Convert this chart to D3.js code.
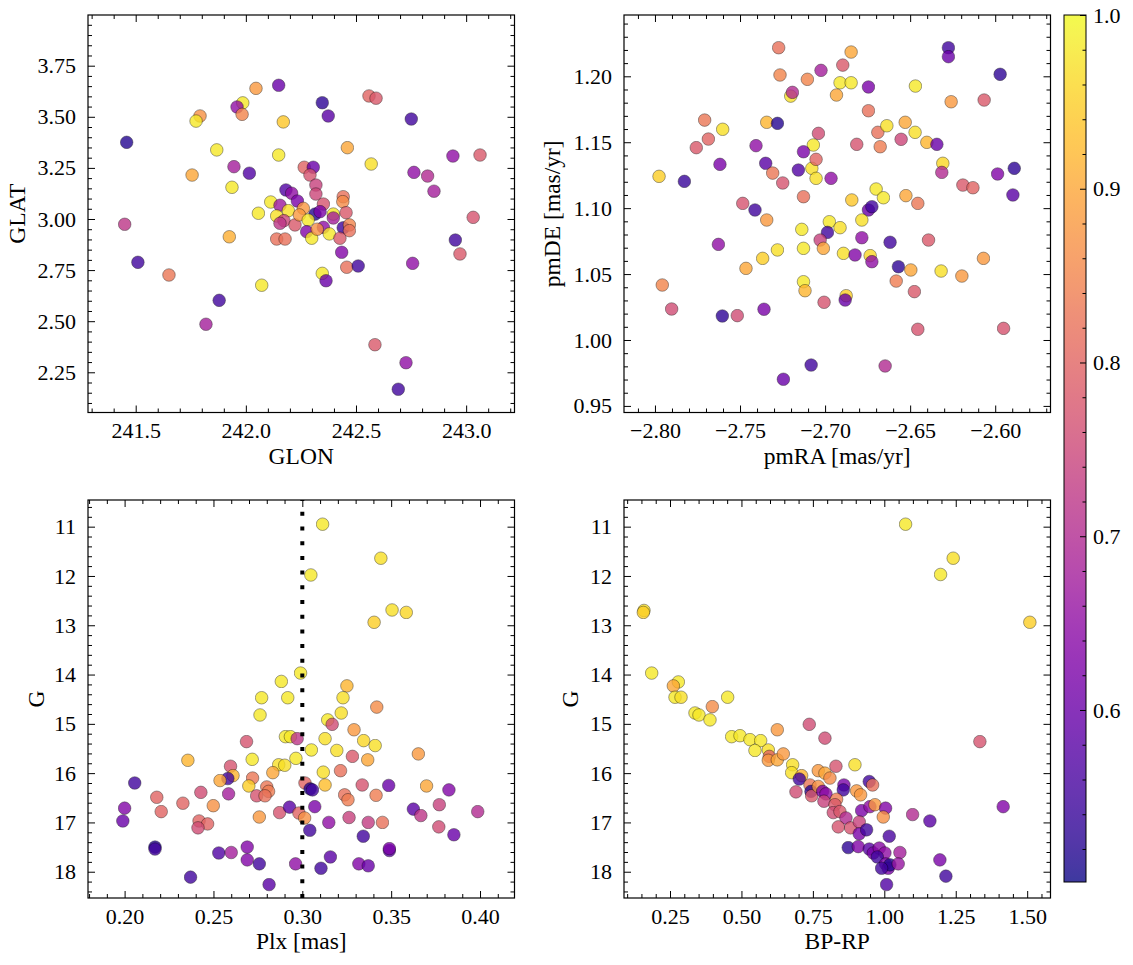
<!DOCTYPE html>
<html><head><meta charset="utf-8">
<script src="https://cdn.jsdelivr.net/npm/d3@7"></script>
<style>
body{margin:0;background:#fff}
svg text{font-family:"Liberation Serif","Times New Roman",serif;font-size:22px;fill:#000}
svg text.axlabel{font-size:23.5px}
</style>
</head><body>
<svg id="c" width="1133" height="965"></svg>
<script>
// ---------- data: [x, y, membership probability] ----------
const skyPos = [ // GLON, GLAT, prob
[242.149,3.654,0.60],[242.046,3.639,0.88],[241.986,3.568,0.98],[241.960,3.548,0.65],[241.983,3.512,0.85],
[241.792,3.504,0.87],[241.774,3.479,0.98],[242.170,3.475,0.94],[241.459,3.375,0.52],[241.868,3.338,0.98],
[242.149,3.313,0.98],[241.946,3.256,0.68],[242.016,3.224,0.57],[241.756,3.215,0.90],[241.937,3.155,0.98],
[242.057,3.028,0.98],[242.265,3.253,0.80],[242.306,3.253,0.60],[242.291,3.215,0.77],[242.318,3.166,0.74],
[242.182,3.142,0.57],[242.208,3.126,0.65],[242.318,3.122,0.75],[242.442,3.109,0.82],[242.234,3.088,0.62],
[242.113,3.083,0.98],[242.155,3.067,0.67],[242.352,3.073,0.77],[242.440,3.085,0.86],[242.140,3.015,0.97],
[242.193,3.041,0.97],[242.261,3.052,0.88],[242.314,3.024,0.52],[242.337,3.036,0.62],[242.397,3.024,0.98],
[242.397,3.005,0.68],[242.455,3.031,0.78],[242.173,2.992,0.75],[242.155,2.979,0.72],[242.223,2.971,0.78],
[242.243,3.020,0.88],[242.283,2.995,0.98],[242.276,2.938,0.63],[242.299,2.906,0.98],[242.352,2.959,0.65],
[242.324,2.950,0.87],[242.379,2.927,0.98],[242.442,2.957,0.55],[242.470,2.971,0.85],[242.470,2.943,0.82],
[242.427,2.906,0.78],[242.140,2.902,0.82],[242.178,2.902,0.82],[241.925,2.913,0.91],[242.435,2.837,0.63],
[242.458,2.764,0.82],[242.510,2.770,0.55],[242.347,2.734,0.98],[242.364,2.698,0.60],[242.072,2.676,0.98],
[242.559,3.602,0.80],[242.591,3.591,0.78],[242.347,3.569,0.53],[242.374,3.504,0.58],[242.751,3.489,0.55],
[242.461,3.349,0.90],[242.569,3.269,0.97],[242.940,3.308,0.65],[243.063,3.313,0.78],[242.763,3.228,0.65],
[242.825,3.210,0.70],[242.854,3.136,0.68],[243.032,3.008,0.77],[242.951,2.897,0.55],[242.972,2.829,0.78],
[242.757,2.783,0.65],[242.586,2.385,0.78],[242.727,2.297,0.65],[242.692,2.167,0.55],[241.450,2.974,0.72],
[241.510,2.788,0.55],[241.651,2.726,0.83],[241.879,2.602,0.55],[241.819,2.485,0.68]
];
const properMotion = [ // pmRA, pmDE, prob
[-2.7273,1.2217,0.82],[-2.6847,1.2184,0.90],[-2.6275,1.2217,0.55],[-2.6275,1.2149,0.60],[-2.7265,1.2010,0.85],
[-2.7104,1.1977,0.85],[-2.7024,1.2045,0.68],[-2.6896,1.2085,0.78],[-2.6912,1.1951,0.98],[-2.6847,1.1951,0.98],
[-2.6933,1.1858,0.90],[-2.6745,1.1919,0.62],[-2.7202,1.1850,0.97],[-2.7192,1.1878,0.70],[-2.6469,1.1926,0.98],
[-2.5971,1.2015,0.53],[-2.6259,1.1807,0.88],[-2.6065,1.1820,0.78],[-2.6745,1.1739,0.82],[-2.7708,1.1668,0.83],
[-2.7602,1.1598,0.97],[-2.7686,1.1524,0.80],[-2.7757,1.1459,0.78],[-2.7343,1.1651,0.92],[-2.7280,1.1643,0.52],
[-2.7039,1.1567,0.76],[-2.7069,1.1479,0.98],[-2.7406,1.1474,0.65],[-2.7127,1.1428,0.62],[-2.6690,1.1575,0.82],
[-2.6637,1.1625,0.97],[-2.6529,1.1651,0.90],[-2.6471,1.1575,0.97],[-2.6814,1.1484,0.77],[-2.6676,1.1466,0.84],
[-2.6553,1.1522,0.75],[-2.6402,1.1499,0.92],[-2.6343,1.1484,0.60],[-2.6308,1.1340,0.96],[-2.6314,1.1271,0.70],
[-2.7976,1.1241,0.95],[-2.7827,1.1203,0.54],[-2.7618,1.1332,0.62],[-2.7349,1.1340,0.58],[-2.7308,1.1266,0.83],
[-2.7249,1.1191,0.77],[-2.7157,1.1289,0.57],[-2.7078,1.1302,0.97],[-2.7053,1.1370,0.80],[-2.7053,1.1226,0.97],
[-2.6965,1.1226,0.65],[-2.6190,1.1175,0.78],[-2.6131,1.1155,0.80],[-2.5986,1.1259,0.63],[-2.5888,1.1302,0.53],
[-2.5896,1.1100,0.58],[-2.7127,1.1087,0.82],[-2.7484,1.1036,0.77],[-2.7412,1.0986,0.55],[-2.7343,1.0910,0.88],
[-2.6843,1.1062,0.94],[-2.6700,1.1145,0.98],[-2.6657,1.1079,0.98],[-2.6745,1.0986,0.60],[-2.6725,1.1011,0.55],
[-2.6525,1.1095,0.90],[-2.6455,1.1036,0.83],[-2.7137,1.0839,0.98],[-2.6975,1.0897,0.98],[-2.6986,1.0816,0.55],
[-2.6912,1.0852,0.97],[-2.6784,1.0910,0.97],[-2.7029,1.0758,0.74],[-2.7010,1.0695,0.90],[-2.6784,1.0776,0.65],
[-2.6618,1.0741,0.55],[-2.6392,1.0758,0.78],[-2.7627,1.0725,0.65],[-2.7280,1.0683,0.97],[-2.7127,1.0695,0.98],
[-2.7367,1.0619,0.95],[-2.6892,1.0657,0.97],[-2.6824,1.0645,0.63],[-2.6735,1.0640,0.96],[-2.6725,1.0594,0.65],
[-2.6569,1.0556,0.53],[-2.6496,1.0531,0.90],[-2.6318,1.0523,0.97],[-2.6196,1.0485,0.88],[-2.6069,1.0619,0.88],
[-2.7465,1.0543,0.90],[-2.7127,1.0442,0.98],[-2.7118,1.0374,0.92],[-2.6582,1.0447,0.84],[-2.6475,1.0367,0.78],
[-2.6876,1.0336,0.95],[-2.6882,1.0303,0.60],[-2.7006,1.0286,0.77],[-2.7957,1.0417,0.85],[-2.7902,1.0235,0.76],
[-2.7604,1.0182,0.53],[-2.7516,1.0185,0.76],[-2.7359,1.0233,0.62],[-2.6455,1.0081,0.77],[-2.5951,1.0088,0.77],
[-2.7082,0.9810,0.55],[-2.7245,0.9702,0.60],[-2.6647,0.9803,0.70]
];
const parallaxMag = [ // Plx, G, prob
[0.3114,10.95,0.98],[0.3442,11.64,0.97],[0.3048,11.98,0.98],[0.3505,12.69,0.97],[0.3585,12.74,0.96],
[0.3404,12.94,0.95],[0.2990,13.97,0.98],[0.2882,14.14,0.98],[0.2918,14.47,0.98],[0.2771,14.47,0.98],
[0.2762,14.82,0.98],[0.3251,14.23,0.92],[0.3229,14.47,0.97],[0.3219,14.78,0.97],[0.3419,14.66,0.86],
[0.3143,14.92,0.98],[0.3168,15.01,0.76],[0.2686,15.36,0.77],[0.2905,15.26,0.98],[0.2933,15.26,0.98],
[0.2971,15.30,0.72],[0.3291,15.12,0.88],[0.3128,15.30,0.97],[0.3345,15.34,0.96],[0.3410,15.44,0.97],
[0.3051,15.53,0.98],[0.3194,15.54,0.97],[0.2718,15.72,0.98],[0.2964,15.70,0.98],[0.2356,15.74,0.92],
[0.3282,15.66,0.78],[0.3368,15.73,0.90],[0.3653,15.61,0.88],[0.2867,15.83,0.97],[0.2901,15.84,0.97],
[0.2834,15.99,0.90],[0.2596,15.86,0.77],[0.2610,16.05,0.92],[0.2581,16.11,0.55],[0.2537,16.15,0.90],
[0.2720,16.10,0.83],[0.2699,16.26,0.95],[0.3118,15.98,0.97],[0.3215,15.95,0.82],[0.3015,16.20,0.80],
[0.3044,16.32,0.52],[0.3057,16.34,0.55],[0.3128,16.24,0.93],[0.3337,16.24,0.77],[0.3486,16.25,0.60],
[0.3699,16.26,0.90],[0.3825,16.34,0.63],[0.2057,16.20,0.55],[0.2181,16.49,0.80],[0.2429,16.39,0.76],
[0.2585,16.42,0.68],[0.2743,16.46,0.77],[0.2800,16.28,0.83],[0.2810,16.37,0.84],[0.2790,16.46,0.82],
[0.3238,16.44,0.82],[0.3257,16.54,0.84],[0.3415,16.45,0.84],[0.2328,16.61,0.80],[0.2499,16.66,0.87],
[0.2206,16.78,0.80],[0.2000,16.71,0.63],[0.1990,16.97,0.60],[0.2419,16.97,0.80],[0.2467,17.03,0.80],
[0.2413,17.11,0.76],[0.2758,16.89,0.88],[0.2872,16.80,0.77],[0.2928,16.69,0.58],[0.2981,16.81,0.80],
[0.3013,16.91,0.87],[0.3070,16.68,0.62],[0.3042,17.16,0.55],[0.3149,17.00,0.65],[0.3263,16.90,0.74],
[0.3371,17.00,0.73],[0.3451,17.00,0.82],[0.3343,17.28,0.55],[0.3625,16.73,0.58],[0.3667,16.86,0.72],
[0.3771,16.64,0.74],[0.3768,17.09,0.76],[0.3987,16.78,0.70],[0.3853,17.25,0.60],[0.2171,17.50,0.52],
[0.2171,17.54,0.55],[0.2530,17.62,0.57],[0.2600,17.61,0.68],[0.2690,17.50,0.63],[0.2690,17.76,0.63],
[0.2758,17.84,0.55],[0.2371,18.11,0.55],[0.2813,18.26,0.58],[0.2962,17.84,0.65],[0.3105,17.93,0.55],
[0.3158,17.70,0.58],[0.3318,17.84,0.63],[0.3371,17.88,0.60],[0.3490,17.57,0.58],[0.3490,17.53,0.62]
];
const colourMag = [ // BP-RP, G, prob
[1.0744,10.95,0.98],[1.2411,11.64,0.97],[1.1968,11.97,0.98],[1.5093,12.94,0.95],[0.1590,12.70,0.97],
[0.1567,12.74,0.95],[0.1859,13.97,0.98],[0.2792,14.15,0.98],[0.2617,14.23,0.90],[0.2675,14.46,0.98],
[0.2885,14.46,0.97],[0.4517,14.46,0.98],[0.3981,14.65,0.86],[0.3375,14.78,0.98],[0.3514,14.82,0.98],
[0.3899,14.92,0.98],[0.7374,15.01,0.76],[0.6255,15.12,0.88],[0.7922,15.29,0.76],[1.3344,15.36,0.77],
[0.4657,15.26,0.98],[0.4949,15.24,0.98],[0.5298,15.32,0.98],[0.5672,15.34,0.98],[0.5473,15.54,0.98],
[0.5940,15.53,0.97],[0.5975,15.66,0.80],[0.5940,15.74,0.88],[0.6255,15.73,0.90],[0.6465,15.61,0.88],
[0.6791,15.83,0.97],[0.6756,15.99,0.97],[0.8972,15.83,0.97],[0.8307,15.86,0.77],[0.7689,15.95,0.88],
[0.7922,16.00,0.90],[0.8097,16.10,0.86],[0.7106,16.05,0.92],[0.7024,16.12,0.55],[0.6908,16.38,0.76],
[0.7398,16.24,0.83],[0.7433,16.37,0.52],[0.7457,16.46,0.78],[0.7689,16.27,0.87],[0.7841,16.37,0.62],
[0.7957,16.42,0.65],[0.7887,16.57,0.74],[0.8587,16.24,0.62],[0.8564,16.34,0.55],[0.9030,16.36,0.88],
[0.9170,16.44,0.88],[0.9473,16.17,0.55],[0.9590,16.24,0.82],[0.8330,16.53,0.84],[0.8272,16.64,0.78],
[0.8214,16.80,0.76],[0.8447,16.78,0.78],[0.9205,16.76,0.62],[0.9497,16.68,0.65],[0.9672,16.64,0.88],
[1.0044,16.71,0.63],[0.9963,16.89,0.87],[0.8657,16.91,0.70],[0.8820,17.11,0.77],[0.9123,16.99,0.74],
[0.8389,17.09,0.77],[0.9123,17.23,0.62],[0.9380,17.15,0.55],[1.0989,16.84,0.70],[1.1595,16.97,0.58],
[1.4160,16.68,0.63],[1.0172,17.28,0.56],[0.8738,17.51,0.53],[0.9088,17.49,0.63],[0.9473,17.54,0.58],
[0.9613,17.62,0.62],[0.9823,17.52,0.64],[1.0021,17.62,0.65],[0.9753,17.70,0.55],[1.0546,17.61,0.68],
[1.0044,17.84,0.62],[1.0137,17.93,0.62],[1.0196,17.86,0.52],[1.0487,17.84,0.66],[1.1945,17.76,0.62],
[1.2155,18.09,0.55],[1.0079,18.26,0.57],[0.9905,17.93,0.55]
];
// tick labels
const glonTicks = [241.5, 242.0, 242.5, 243.0];
const glatTicks = [2.25, 2.50, 2.75, 3.00, 3.25, 3.50, 3.75];
const pmraTicks = [-2.80, -2.75, -2.70, -2.65, -2.60];
const pmdeTicks = [0.95, 1.00, 1.05, 1.10, 1.15, 1.20];
const plxTicks = [0.20, 0.25, 0.30, 0.35, 0.40];
const gTicks = [11, 12, 13, 14, 15, 16, 17, 18];
const bprpTicks = [0.25, 0.50, 0.75, 1.00, 1.25, 1.50];
const probTicks = [0.6, 0.7, 0.8, 0.9, 1.0];
const plxReference = 0.30;
const probRange = [0.501, 1.0];

// ---------- drawing ----------
const svg = d3.select('#c');
const color = p => d3.interpolatePlasma((p - probRange[0]) / (probRange[1] - probRange[0]));
const MAJ = 7, MIN = 4;

function minorVals(dom, step) {
  const lo = Math.min(...dom), hi = Math.max(...dom);
  const out = [];
  for (let k = Math.ceil(lo / step - 1e-9); k * step <= hi + 1e-9; k++) out.push(+(k * step).toFixed(6));
  return out;
}
function styleAxis(sel) {
  sel.select('.domain').remove();
  sel.attr('font-family', null).attr('font-size', null);
  sel.selectAll('line').attr('stroke', '#000').attr('stroke-width', 1);
  sel.selectAll('text').style('font-family', '"Liberation Serif",serif').style('font-size', '22px').attr('fill', '#000');
}

function panel(o) {
  const x = d3.scaleLinear().domain(o.xdom).range([o.x0, o.x1]);
  const y = d3.scaleLinear().domain(o.ydom).range([o.y1, o.y0]);
  const g = svg.append('g');
  g.append('clipPath').attr('id', 'clip' + o.id).append('rect')
    .attr('x', o.x0).attr('y', o.y0).attr('width', o.x1 - o.x0).attr('height', o.y1 - o.y0);
  const pg = g.append('g').attr('clip-path', `url(#clip${o.id})`);
  pg.selectAll('circle').data(o.data).join('circle')
    .attr('cx', d => x(d[0])).attr('cy', d => y(d[1])).attr('r', 6.3)
    .attr('fill', d => color(d[2]))
    .attr('stroke', '#000').attr('stroke-width', 0.45)
    .attr('opacity', 0.8);
  if (o.vline != null) {
    pg.append('line').attr('x1', x(o.vline)).attr('x2', x(o.vline))
      .attr('y1', o.y1).attr('y2', o.y0)
      .attr('stroke', '#000').attr('stroke-width', 4).attr('stroke-dasharray', '4 10.7');
  }
  const xmin = minorVals(o.xdom, o.xminor).filter(v => !o.xticks.some(t => Math.abs(t - v) < 1e-6));
  const ymin = minorVals(o.ydom, o.yminor).filter(v => !o.yticks.some(t => Math.abs(t - v) < 1e-6));
  g.append('g').attr('transform', `translate(0,${o.y1})`)
    .call(d3.axisBottom(x).tickValues(o.xticks).tickSizeInner(-MAJ).tickSizeOuter(0).tickPadding(10).tickFormat(o.xfmt))
    .call(styleAxis);
  g.append('g').attr('transform', `translate(0,${o.y1})`)
    .call(d3.axisBottom(x).tickValues(xmin).tickSizeInner(-MIN).tickSizeOuter(0).tickFormat(() => ''))
    .call(styleAxis);
  g.append('g').attr('transform', `translate(0,${o.y0})`)
    .call(d3.axisTop(x).tickValues(o.xticks).tickSizeInner(-MAJ).tickSizeOuter(0).tickFormat(() => ''))
    .call(styleAxis);
  g.append('g').attr('transform', `translate(0,${o.y0})`)
    .call(d3.axisTop(x).tickValues(xmin).tickSizeInner(-MIN).tickSizeOuter(0).tickFormat(() => ''))
    .call(styleAxis);
  g.append('g').attr('transform', `translate(${o.x0},0)`)
    .call(d3.axisLeft(y).tickValues(o.yticks).tickSizeInner(-MAJ).tickSizeOuter(0).tickPadding(12).tickFormat(o.yfmt))
    .call(styleAxis);
  g.append('g').attr('transform', `translate(${o.x0},0)`)
    .call(d3.axisLeft(y).tickValues(ymin).tickSizeInner(-MIN).tickSizeOuter(0).tickFormat(() => ''))
    .call(styleAxis);
  g.append('g').attr('transform', `translate(${o.x1},0)`)
    .call(d3.axisRight(y).tickValues(o.yticks).tickSizeInner(-MAJ).tickSizeOuter(0).tickFormat(() => ''))
    .call(styleAxis);
  g.append('g').attr('transform', `translate(${o.x1},0)`)
    .call(d3.axisRight(y).tickValues(ymin).tickSizeInner(-MIN).tickSizeOuter(0).tickFormat(() => ''))
    .call(styleAxis);
  g.append('rect').attr('x', o.x0).attr('y', o.y0).attr('width', o.x1 - o.x0).attr('height', o.y1 - o.y0)
    .attr('fill', 'none').attr('stroke', '#000').attr('stroke-width', 1.2);
  g.append('text').attr('class', 'axlabel').attr('x', (o.x0 + o.x1) / 2).attr('y', o.y1 + 51)
    .attr('text-anchor', 'middle').text(o.xlabel);
  g.append('text').attr('class', 'axlabel')
    .attr('transform', `translate(${o.ylabelX},${(o.y0 + o.y1) / 2}) rotate(-90)`)
    .attr('text-anchor', 'middle').text(o.ylabel);
}

const L = [88, 514.5], R = [624, 1050.5], T = [15, 412.5], B = [500, 898];
const f2 = d3.format('.2f'), f1 = d3.format('.1f'), f0 = d3.format('d');

panel({id: 1, x0: L[0], x1: L[1], y0: T[0], y1: T[1], data: skyPos,
  xdom: [241.2835, 243.2195], ydom: [2.0533, 3.998],
  xticks: glonTicks, yticks: glatTicks, xminor: 0.1, yminor: 0.05,
  xfmt: f1, yfmt: f2, xlabel: 'GLON', ylabel: 'GLAT', ylabelX: 25});
panel({id: 2, x0: R[0], x1: R[1], y0: T[0], y1: T[1], data: properMotion,
  xdom: [-2.8182, -2.5675], ydom: [0.9450, 1.2465],
  xticks: pmraTicks, yticks: pmdeTicks, xminor: 0.01, yminor: 0.01,
  xfmt: f2, yfmt: f2, xlabel: 'pmRA [mas/yr]', ylabel: 'pmDE [mas/yr]', ylabelX: 560});
panel({id: 3, x0: L[0], x1: L[1], y0: B[0], y1: B[1], data: parallaxMag,
  xdom: [0.1794, 0.4194], ydom: [18.533, 10.459],
  xticks: plxTicks, yticks: gTicks, xminor: 0.01, yminor: 0.2,
  xfmt: f2, yfmt: f0, xlabel: 'Plx [mas]', ylabel: 'G', ylabelX: 44, vline: plxReference});
panel({id: 4, x0: R[0], x1: R[1], y0: B[0], y1: B[1], data: colourMag,
  xdom: [0.089, 1.5816], ydom: [18.533, 10.459],
  xticks: bprpTicks, yticks: gTicks, xminor: 0.05, yminor: 0.2,
  xfmt: f2, yfmt: f0, xlabel: 'BP-RP', ylabel: 'G', ylabelX: 578});

// colorbar
const CB = {x0: 1064, x1: 1086, y0: 15, y1: 882};
const cy = d3.scaleLinear().domain(probRange).range([CB.y1, CB.y0]);
const defs = svg.append('defs');
const grad = defs.append('linearGradient').attr('id', 'cbgrad')
  .attr('x1', 0).attr('y1', 1).attr('x2', 0).attr('y2', 0);
d3.range(0, 1.0001, 0.02).forEach(t => {
  grad.append('stop').attr('offset', t).attr('stop-color', d3.interpolatePlasma(t)).attr('stop-opacity', 0.8);
});
svg.append('rect').attr('x', CB.x0).attr('y', CB.y0).attr('width', CB.x1 - CB.x0).attr('height', CB.y1 - CB.y0)
  .attr('fill', 'url(#cbgrad)');
const cbMinor = minorVals(probRange, 0.02).filter(v => !probTicks.some(t => Math.abs(t - v) < 1e-6));
svg.append('g').attr('transform', `translate(${CB.x1},0)`)
  .call(d3.axisRight(cy).tickValues(probTicks).tickSizeInner(-6).tickSizeOuter(0).tickPadding(7).tickFormat(f1))
  .call(styleAxis);
svg.append('g').attr('transform', `translate(${CB.x1},0)`)
  .call(d3.axisRight(cy).tickValues(cbMinor).tickSizeInner(-3.5).tickSizeOuter(0).tickFormat(() => ''))
  .call(styleAxis);
svg.append('rect').attr('x', CB.x0).attr('y', CB.y0).attr('width', CB.x1 - CB.x0).attr('height', CB.y1 - CB.y0)
  .attr('fill', 'none').attr('stroke', '#000').attr('stroke-width', 1);
</script>
</body></html>
